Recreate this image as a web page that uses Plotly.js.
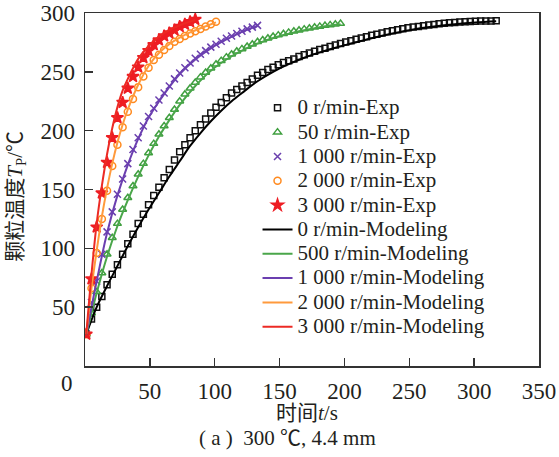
<!DOCTYPE html>
<html><head><meta charset="utf-8">
<script src="https://cdn.plot.ly/plotly-3.0.1.min.js"></script>
<style>html,body{margin:0;padding:0;background:#fff}#chart{width:559px;height:457px}</style>
</head><body><div id="chart"></div>
<script>
// ---- data ----
var seriesNames = ['0 r/min-Exp','50 r/min-Exp','1 000 r/min-Exp','2 000 r/min-Exp','3 000 r/min-Exp'];
var modelNames = ['0 r/min-Modeling','500 r/min-Modeling','1 000 r/min-Modeling','2 000 r/min-Modeling','3 000 r/min-Modeling'];

var tExp0 = [1,5,9,13,17,21,25,29,33,37,41,45,49,53,57,61,65,69,73,77,81,85,89,93,97,101,105,109,113,117,121,125,129,133,137,141,145,149,153,157,161,165,169,173,177,181,185,189,193,197,201,205,209,213,217,221,225,229,233,237,241,245,249,253,257,261,265,269,273,277,281,285,289,293,297,301,305,309,313,317];
var TExp0 = [27,40,50,59,69,78,86,95,104,112,121,129,137,145,152,160,167,175,182,188,194,200,205,210,215,220,224,228,232,235,238,241,244,247,249.5,252,254,256,258,259.5,261,263,264.5,266,267.5,269,270,271.5,272.7,274,275.3,276.5,277.7,278.8,279.8,281,282,283,284,285,285.8,286.6,287.4,288,288.6,289.2,289.8,290.3,290.8,291.3,291.7,292,292.3,292.6,292.8,293,293.1,293.2,293.3,293.4];

var tExp50 = [1,5,9,13,17,21,25,29,33,37,41,45,49,53,57,61,65,69,73,77,81,85,89,93,97,101,105,109,113,117,121,125,129,133,137,141,145,149,153,157,161,165,169,173,177,181,185,189,193,197];
var TExp50 = [27,45,63,79,95,109,121,133,143,153,163,172,181,189,197,204,211,218,225,231,236,241,245.5,249.5,253,256.5,259.5,262.5,265,267.5,269.5,271.5,273.5,275.5,277,278.5,280,281.2,282.4,283.5,284.5,285.4,286.3,287.1,287.9,288.6,289.3,289.9,290.5,291];

var tExp1000 = [1,5,9,13,17,21,25,29,33,37,41,45,49,53,57,61,65,69,73,77,81,85,89,93,97,101,105,109,113,117,121,125,129,133];
var TExp1000 = [27,54,72,95,114,131,146,159,172,184,194,204,212,219,226,232,238,244,249,253.5,257.5,261.5,265,268,271,273.5,276,278.5,280.5,282.5,284.5,286.5,288,289.5];

var tExp2000 = [1,5,9,13,17,21,25,29,33,37,41,45,49,53,57,61,65,69,73,77,81,85,89,93,97,101];
var TExp2000 = [27,66,96,125,149,170,188,203,216,227,237,246,253.5,260,264.5,268.5,272,275.5,278,280.5,282.5,284.5,286.5,288.5,290.5,292.5];

var tExp3000 = [1,5,9,13,17,21,25,29,33,37,41,45,49,53,57,61,65,69,73,77,81,85];
var TExp3000 = [27,74,118,147,173,194,211,224,236,246,254,262,268,273,277,280.5,283,285.5,288.5,290.5,292.5,294.5];

var tMod0 = [1,9,17,25,33,41,49,57,65,73,81,89,97,105,113,121,133,145,157,169,181,193,205,221,237,253,269,285,301,317];
var TMod0 = [27,50,68,85,102,118,133,147,161,174,187,198,208,217,225,232,242,250,256.5,262,266.5,270.5,274,278.5,282.5,286,288.5,290.5,292,293];

var tMod500 = [1,9,17,25,33,41,49,57,65,73,85,97,109,121,133,149,165,181,197];
var TMod500 = [27,62,93,119,141,161,179,195,209,222,238,251,260.5,268,274,280,284.5,288,290.5];

var tMod1000 = [1,9,17,25,33,41,49,61,73,85,97,109,121,133];
var TMod1000 = [27,72,113,145,171,193,211,231,248,260.5,270,277.5,284,289];

var tMod2000 = [1,5,9,13,17,21,25,29,33,41,49,57,65,73,81,89,101];
var TMod2000 = [27,66,98,127,151,172,190,205,218,239,255,266,273.5,279,283.5,287,292];

var tMod3000 = [1,5,9,13,17,21,25,29,33,37,41,49,57,65,73,85];
var TMod3000 = [27,78,121,153,180,202,220,234,244,253,261,272,280,285.5,289.5,294];

var xTicks = [50,100,150,200,250,300,350];
var yTicks = [50,100,150,200,250,300];

// ---- styles ----
var colors = ['#111111','#3f9f3f','#6a3fae','#ff8a1f','#ee1d23'];
var lineColors = ['#000000','#4aa64a','#6b3fb0','#ff9a3c','#ec2a24'];
var symbols = ['square-open','triangle-up-open','x-thin-open','circle-open','star'];
var msizes = [6,7,7,7,9];

var expT = [tExp0,tExp50,tExp1000,tExp2000,tExp3000];
var expV = [TExp0,TExp50,TExp1000,TExp2000,TExp3000];
var modT = [tMod0,tMod500,tMod1000,tMod2000,tMod3000];
var modV = [TMod0,TMod500,TMod1000,TMod2000,TMod3000];

function big(s){ return '<span style="font-size:21px">' + s + '</span>'; }

var traces = [];
for (var i=0;i<5;i++){
  traces.push({x:expT[i], y:expV[i], name:big(seriesNames[i]), type:'scatter', mode:'markers',
    marker:{symbol:symbols[i], size:msizes[i], color:colors[i], line:{color:colors[i], width:1.5}}});
}
for (var j=0;j<5;j++){
  traces.push({x:modT[j], y:modV[j], name:big(modelNames[j]), type:'scatter', mode:'lines',
    line:{color:lineColors[j], width:2, shape:'spline', smoothing:1}});
}

var serif = 'Liberation Serif, Times New Roman, serif';
var cjk = 'Liberation Serif, Noto Sans CJK SC, serif';
var axisCommon = {showline:true, linecolor:'#333', linewidth:1.5, mirror:true, ticks:'inside', ticklen:8,
  tickwidth:1.5, tickcolor:'#333', showgrid:false, zeroline:false,
  tickfont:{family:serif, size:23, color:'#231f20'}};

var layout = {
  width:559, height:457, margin:{l:85, r:20, t:13, b:91},
  paper_bgcolor:'#fff', plot_bgcolor:'#fff', showlegend:true,
  xaxis: Object.assign({}, axisCommon, {range:[0,350], tickvals:xTicks, ticktext:xTicks.map(String), ticklabelstandoff:4}),
  yaxis: Object.assign({}, axisCommon, {range:[0,300], tickvals:yTicks, ticktext:yTicks.map(String), ticklabelstandoff:4}),
  legend:{x:0.38, y:0.78, xanchor:'left', yanchor:'top', bgcolor:'rgba(0,0,0,0)',
    font:{family:serif, size:16.4, color:'#231f20'}, itemwidth:30, tracegroupgap:0},
  annotations:[
    {text:'0', xref:'paper', yref:'paper', x:-0.04, y:-0.05, xanchor:'center', yanchor:'middle', showarrow:false,
     font:{family:serif, size:23, color:'#231f20'}},
    {text:'时间<i>t</i>/s', xref:'paper', yref:'paper', x:0.488, y:-0.132, xanchor:'center', yanchor:'middle', showarrow:false,
     font:{family:cjk, size:21, color:'#231f20'}},
    {text:'(\u00a0a\u00a0)\u00a0\u00a0300\u00a0℃,\u00a04.4\u00a0mm', xref:'paper', yref:'paper', x:0.446, y:-0.203, xanchor:'center', yanchor:'middle', showarrow:false,
     font:{family:cjk, size:21, color:'#231f20'}},
    {text:'颗粒温度<i>T</i><sub>P</sub>/℃', xref:'paper', yref:'paper', x:-0.154, y:0.48, xanchor:'center', yanchor:'middle', showarrow:false,
     textangle:-90, font:{family:cjk, size:21, color:'#231f20'}}
  ]
};
Plotly.newPlot('chart', traces, layout, {displayModeBar:false, staticPlot:true});
</script></body></html>
